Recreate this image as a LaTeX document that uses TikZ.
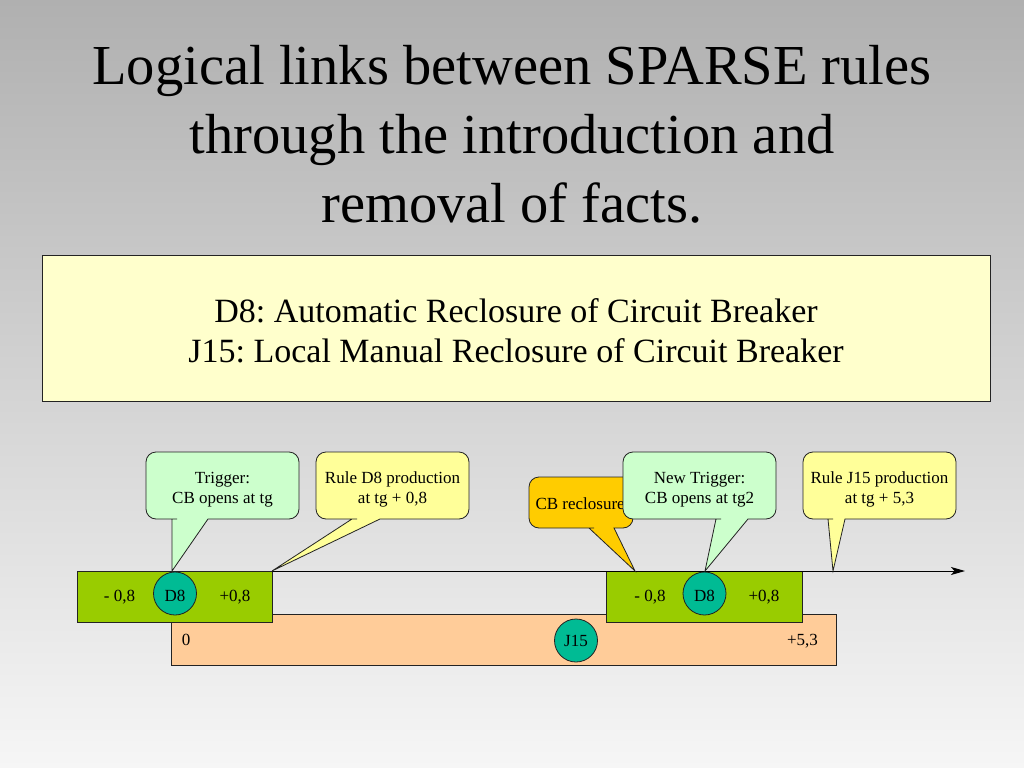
\documentclass[tikz,border=0pt]{standalone}
\usepackage{fontspec}
\setmainfont{Liberation Serif}
\usetikzlibrary{arrows.meta}
\frenchspacing
\definecolor{bgTop}{RGB}{176,176,176}
\definecolor{bgBot}{RGB}{246,246,246}
\definecolor{infoY}{HTML}{FFFFCC}
\definecolor{callG}{HTML}{CCFFCC}
\definecolor{callY}{HTML}{FFFF99}
\definecolor{callO}{HTML}{FFCC00}
\definecolor{barG}{HTML}{99CC00}
\definecolor{barO}{HTML}{FFCC99}
\definecolor{tealC}{RGB}{0,187,148}
\definecolor{edge}{RGB}{35,35,35}
% #1 style, #2 left, #3 right, #4 top, #5 bottom, #6 base left, #7 base right, #8 tip
\newcommand\CallBox[8]{%
  \draw[#1] (#8) -- (#7,#5) -- ({#7+5},#5) [rounded corners=10bp] -- (#3,#5) -- (#3,#4) -- (#2,#4) -- (#2,#5) -- ({#6-5},#5) [sharp corners] -- (#6,#5) -- cycle;}
\begin{document}
\begin{tikzpicture}[x=1bp,y=-1bp,
  every node/.style={inner sep=0pt, outer sep=0pt},
  titletext/.style={font=\fontsize{56.5bp}{68bp}\selectfont, anchor=base},
  infotext/.style={font=\fontsize{34bp}{40bp}\selectfont, anchor=base},
  smalltext/.style={font=\fontsize{17bp}{20bp}\selectfont, anchor=base},
  border/.style={draw=edge, line width=0.8bp},
  panel/.style={border, anchor=north west},
  circ/.style={circle, border, fill=tealC, minimum size=43bp},
  cgreen/.style={border, fill=callG},
  cyellow/.style={border, fill=callY},
  corange/.style={border, fill=callO},
  timeline/.style={draw=black, line width=1bp, -{Stealth[length=14bp,width=8bp,inset=3.5bp]}}
]
\useasboundingbox (0,0) rectangle (1024,768);
\shade[top color=bgTop, bottom color=bgBot] (0,0) rectangle (1024,768);

% title
\node[titletext] (title1) at (512,85) {Logical links between SPARSE rules};
\node[titletext] (title2) at (512,153) {through the introduction and};
\node[titletext] (title3) at (512,222) {removal of facts.};

% info box
\node[panel, fill=infoY, minimum width=948bp, minimum height=146bp] (info) at (42,255) {};
\node[infotext] (info1) at (516,322) {D8: Automatic Reclosure of Circuit Breaker};
\node[infotext] (info2) at (516,362) {J15: Local Manual Reclosure of Circuit Breaker};

% bars
\node[panel, fill=barO, minimum width=665bp, minimum height=51bp] (obar) at (171,614) {};
\node[circ] (j15) at (576,640.5) {};
\node[smalltext] (j15t) at (576,646) {J15};
\node[smalltext] (ozero) at (186,645) {0};
\node[smalltext] (oend) at (802.5,645) {+5,3};

\node[panel, fill=barG, minimum width=195bp, minimum height=51bp] (g1) at (77,571) {};
\node[panel, fill=barG, minimum width=196bp, minimum height=51bp] (g2) at (606,571) {};
\node[circ] (d8a) at (175,593.5) {};
\node[circ] (d8b) at (704.5,593.5) {};
\node[smalltext] (d8at) at (175,601.5) {D8};
\node[smalltext] (d8bt) at (704.5,601.5) {D8};
\node[smalltext] (g1m) at (119.5,601.5) {- 0,8};
\node[smalltext] (g1p) at (235,601.5) {+0,8};
\node[smalltext] (g2m) at (650,601.5) {- 0,8};
\node[smalltext] (g2p) at (764,601.5) {+0,8};

% timeline
\coordinate (tlend) at (965,571);
\draw[timeline] (g1.north east) -- (tlend);

% callout tips
\coordinate (tipA) at (172,571);
\coordinate (tipC) at (635,571);
\coordinate (tipD) at (705,571);
\coordinate (tipE) at (833,571);

% callouts
\CallBox{cgreen}{146}{299}{452}{519}{172}{208}{tipA}
\node[smalltext] (trig1) at (222.5,483) {Trigger:};
\node[smalltext] (trig2) at (222.5,503) {CB opens at tg};

\CallBox{cyellow}{316}{469}{452}{519}{352}{380}{g1.north east}
\node[smalltext] (rd81) at (392.5,483) {Rule D8 production};
\node[smalltext] (rd82) at (392.5,503) {at tg + 0,8};

\CallBox{corange}{529}{633}{477}{528}{589}{614}{tipC}
\node[smalltext, anchor=base west] (cbr) at (535.5,509) {CB reclosure};

\CallBox{cgreen}{623}{776}{452}{519}{716}{748}{tipD}
\node[smalltext] (nt1) at (699.5,483) {New Trigger:};
\node[smalltext] (nt2) at (699.5,503) {CB opens at tg2};

\CallBox{cyellow}{803}{956}{452}{519}{828}{845}{tipE}
\node[smalltext] (rj1) at (879.5,483) {Rule J15 production};
\node[smalltext] (rj2) at (879.5,503) {at tg + 5,3};
\end{tikzpicture}
\end{document}
